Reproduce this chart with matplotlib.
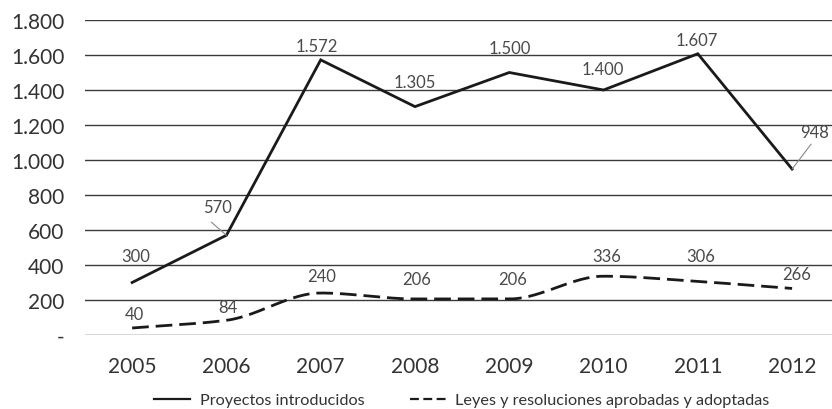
import numpy as np
import matplotlib
matplotlib.use("Agg")
import matplotlib.pyplot as plt
from matplotlib.lines import Line2D

years = ["2005", "2006", "2007", "2008", "2009", "2010", "2011", "2012"]
proyectos = [300, 570, 1572, 1305, 1500, 1400, 1607, 948]
leyes = [40, 84, 240, 206, 206, 336, 306, 266]
proyectos_lbl = ["300", "570", "1.572", "1.305", "1.500", "1.400", "1.607", "948"]
leyes_lbl = ["40", "84", "240", "206", "206", "336", "306", "266"]
yticks = [0, 200, 400, 600, 800, 1000, 1200, 1400, 1600, 1800]
ytick_lbl = ["-", "200", "400", "600", "800", "1.000", "1.200", "1.400", "1.600", "1.800"]
series_names = ["Proyectos introducidos", "Leyes y resoluciones aprobadas y adoptadas"]

# label offsets in pixels (dx right, dy up)
off_p = [(4, 26), (-9, 28), (-4, 14), (0, 25), (1, 25), (-1, 21), (-1, 14), (22, 37)]
off_l = [(2, 14), (1, 13), (1, 17), (2, 20), (3, 20), (3, 20), (3, 25), (5, 14)]

plt.rcParams['font.family'] = ['Lato', 'DejaVu Sans']
W, H = 832, 410
fig = plt.figure(figsize=(W/100, H/100), dpi=100)
ax = fig.add_axes([85/W, 74/H, 1 - 85/W, 315/H])

x = np.arange(len(years))

def monotone(xs, ys, n=30):
    xs = np.asarray(xs, float); ys = np.asarray(ys, float)
    h = np.diff(xs); d = np.diff(ys) / h
    m = np.zeros_like(ys)
    m[0] = d[0]; m[-1] = d[-1]
    for i in range(1, len(ys) - 1):
        if d[i-1] * d[i] <= 0:
            m[i] = 0
        else:
            m[i] = 2 / (1/d[i-1] + 1/d[i])
    ox, oy = [], []
    for i in range(len(xs) - 1):
        t = np.linspace(0, 1, n)
        h00 = 2*t**3 - 3*t**2 + 1; h10 = t**3 - 2*t**2 + t
        h01 = -2*t**3 + 3*t**2; h11 = t**3 - t**2
        yy = h00*ys[i] + h10*h[i]*m[i] + h01*ys[i+1] + h11*h[i]*m[i+1]
        xx = xs[i] + t*h[i]
        if i > 0:
            xx, yy = xx[1:], yy[1:]
        ox.append(xx); oy.append(yy)
    return np.concatenate(ox), np.concatenate(oy)

for yv in yticks:
    ax.axhline(yv, color="#3a3a3a", lw=1.0, zorder=1)

ax.plot(x, proyectos, color="#1a1a1a", lw=2.0, solid_joinstyle="miter", zorder=3)
sx, sy = monotone(x, leyes)
ax.plot(sx, sy, color="#1a1a1a", lw=2.0, dashes=(6, 2.5), zorder=3)

k = 0.72
for i in range(len(years)):
    dx, dy = off_p[i]
    ax.annotate(proyectos_lbl[i], (x[i], proyectos[i]), xytext=(dx*k, dy*k),
                textcoords="offset points", ha="center", va="center",
                fontsize=12, color="#4a4a4a", zorder=4)
    dx, dy = off_l[i]
    ax.annotate(leyes_lbl[i], (x[i], leyes[i]), xytext=(dx*k, dy*k),
                textcoords="offset points", ha="center", va="center",
                fontsize=12, color="#4a4a4a", zorder=4)

# leader lines
ax.annotate("", (x[1], proyectos[1]), xytext=(-15*k, 13*k), textcoords="offset points",
            arrowprops=dict(arrowstyle="-", color="#888888", lw=0.8, shrinkA=0, shrinkB=0))
ax.annotate("", (x[7], proyectos[7]), xytext=(19*k, 25*k), textcoords="offset points",
            arrowprops=dict(arrowstyle="-", color="#888888", lw=0.8, shrinkA=0, shrinkB=0))

ax.set_xlim(-0.5, (832 - 132) / 94.3)
ax.set_ylim(0, 1800)
ax.set_xticks(x)
ax.set_xticklabels(years)
ax.set_yticks(yticks)
ax.set_yticklabels(ytick_lbl)
ax.tick_params(axis="both", length=0, labelsize=15, colors="#333333")
ax.tick_params(axis="y", pad=15)
ax.tick_params(axis="x", pad=15)
for s in ax.spines.values():
    s.set_visible(False)

# legend
handles = [Line2D([0], [0], color="#1a1a1a", lw=1.6),
           Line2D([0], [0], color="#1a1a1a", lw=1.6, dashes=(4, 2))]
fig.legend(handles, series_names, loc="center", bbox_to_anchor=(462/W, 1 - 401/H),
           ncol=2, frameon=False, fontsize=11.7, handlelength=2.2, handletextpad=0.6,
           columnspacing=2.8, labelcolor="#333333")

fig.savefig("out.png", dpi=100)
